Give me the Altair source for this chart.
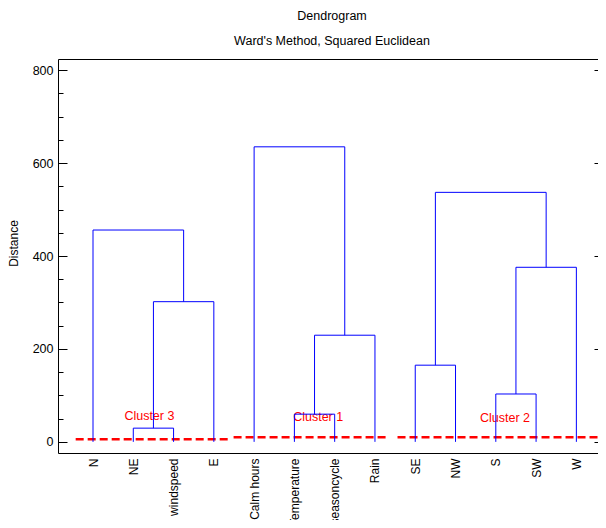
import json
import altair as alt
import pandas as pd

# ---- data ----
leaves = ["N", "NE", "windspeed", "E", "Calm hours", "Temperature",
          "seasoncycle", "Rain", "SE", "NW", "S", "SW", "W"]
# merges: (left child, right child, distance); internal nodes are named m<k>
merge_left = ["NE", "m0", "N", "Temperature", "m3", "Calm hours", "SE", "S", "m7", "m6"]
merge_right = ["windspeed", "E", "m1", "seasoncycle", "Rain", "m4", "NW", "SW", "W", "m8"]
merge_height = [29.5, 301.7, 455.9, 59.6, 229.5, 635.0, 165.0, 103.0, 375.7, 537.0]

cluster_names = ["Cluster 3", "Cluster 1", "Cluster 2"]
cluster_label_x = [2.40, 6.59, 11.23]
cluster_label_y = [54.8, 52.7, 51.6]
cut_start = [0.57, 4.49, 8.56]
cut_end = [4.42, 8.34, 13.63]
cut_level = [5.8, 10.1, 10.1]

y_major = [0, 200, 400, 600, 800]
y_minor = [50, 100, 150, 250, 300, 350, 450, 500, 550, 650, 700, 750]

# ---- build dendrogram segments ----
pos = {name: i + 1 for i, name in enumerate(leaves)}
hgt = {name: 0.0 for name in leaves}
vert_rows, horiz_rows = [], []
for k, (l, r, h) in enumerate(zip(merge_left, merge_right, merge_height)):
    vert_rows.append({"x": pos[l], "y": hgt[l], "y2": h})
    vert_rows.append({"x": pos[r], "y": hgt[r], "y2": h})
    horiz_rows.append({"x": pos[l], "x2": pos[r], "y": h})
    pos[f"m{k}"] = (pos[l] + pos[r]) / 2
    hgt[f"m{k}"] = h
vert_df = pd.DataFrame(vert_rows)
horiz_df = pd.DataFrame(horiz_rows)
cut_df = pd.DataFrame({"x0": cut_start, "x1": cut_end, "level": cut_level})
lab_df = pd.DataFrame({"x": cluster_label_x, "y": cluster_label_y, "name": cluster_names})

FONT = "Liberation Sans"
FS = 12.5
W, H = 540, 394
xscale = alt.Scale(domain=[0.131, 0.131 + W / 40.28], nice=False, zero=False)
yscale = alt.Scale(domain=[-24, 824], nice=False, zero=False)
label_expr = json.dumps(leaves) + "[datum.value - 1]"

cuts = alt.Chart(cut_df).mark_rule(color="#ff0000", strokeWidth=2.5, strokeDash=[8, 4]).encode(
    x=alt.X("x0:Q", scale=xscale, axis=alt.Axis(
        orient="bottom", values=list(range(1, len(leaves) + 1)), labelExpr=label_expr,
        labelAngle=270, labelFontSize=12, labelFont=FONT, labelColor="black",
        labelPadding=5, ticks=False, tickSize=0, domain=True, domainColor="black",
        domainWidth=1, grid=False, title=None, labelOverlap=False, labelFlush=False)),
    x2="x1:Q",
    y=alt.Y("level:Q", scale=yscale, axis=alt.Axis(
        orient="left", values=y_major, format="d", labelFontSize=FS, labelFont=FONT,
        labelColor="black", ticks=False, tickSize=0, labelPadding=5, domain=True,
        domainColor="black", domainWidth=1, grid=False, title="Distance",
        titleX=-45, titleY=184, titleAngle=270, titleAlign="center",
        titleBaseline="middle", titleFontSize=12, titleFont=FONT,
        titleFontWeight="normal", titleColor="black", labelFlush=False)),
)

labels = alt.Chart(lab_df).mark_text(color="#ff0000", fontSize=FS, font=FONT,
                                     align="center", baseline="middle").encode(
    x=alt.X("x:Q", scale=xscale, axis=alt.Axis(
        orient="top", labels=False, ticks=False, domain=True, domainColor="black",
        domainWidth=1, grid=False, title=None)),
    y=alt.Y("y:Q", scale=yscale, axis=alt.Axis(
        orient="left", offset=-9, values=y_major, labels=False, ticks=True, tickSize=9,
        tickColor="black", tickWidth=1, domain=False, grid=False, title=None)),
    text="name:N",
)

verts = alt.Chart(vert_df).mark_rule(color="#0000ff", strokeWidth=1).encode(
    x=alt.X("x:Q", scale=xscale, axis=None),
    y=alt.Y("y:Q", scale=yscale, axis=alt.Axis(
        orient="left", offset=-5, values=y_minor, labels=False, ticks=True, tickSize=5,
        tickColor="black", tickWidth=1, domain=False, grid=False, title=None)),
    y2="y2:Q",
)

horiz = alt.Chart(horiz_df).mark_rule(color="#0000ff", strokeWidth=1).encode(
    x=alt.X("x:Q", scale=xscale, axis=None),
    x2="x2:Q",
    y=alt.Y("y:Q", scale=yscale, axis=alt.Axis(
        orient="right", offset=-4, values=y_major, labels=False, ticks=True, tickSize=4,
        tickColor="black", tickWidth=1, domain=False, grid=False, title=None)),
)

chart = alt.layer(cuts, labels, verts, horiz).resolve_scale(
    x="shared", y="shared"
).resolve_axis(
    x="independent", y="independent"
).properties(
    width=W, height=H,
    autosize=alt.AutoSizeParams(type="none"),
    padding={"left": 50, "top": 51, "right": 0, "bottom": 67},
    title=alt.TitleParams(
        text="Dendrogram", subtitle="Ward's Method, Squared Euclidean",
        anchor="middle", frame="group", dx=4, font=FONT, fontSize=FS, fontWeight="normal",
        color="black", subtitleFont=FONT, subtitleFontSize=FS, subtitleColor="black",
        subtitlePadding=12, offset=12),
).configure_view(stroke=None)

chart.save("out.html", embed_options={"renderer": "svg", "actions": False})
